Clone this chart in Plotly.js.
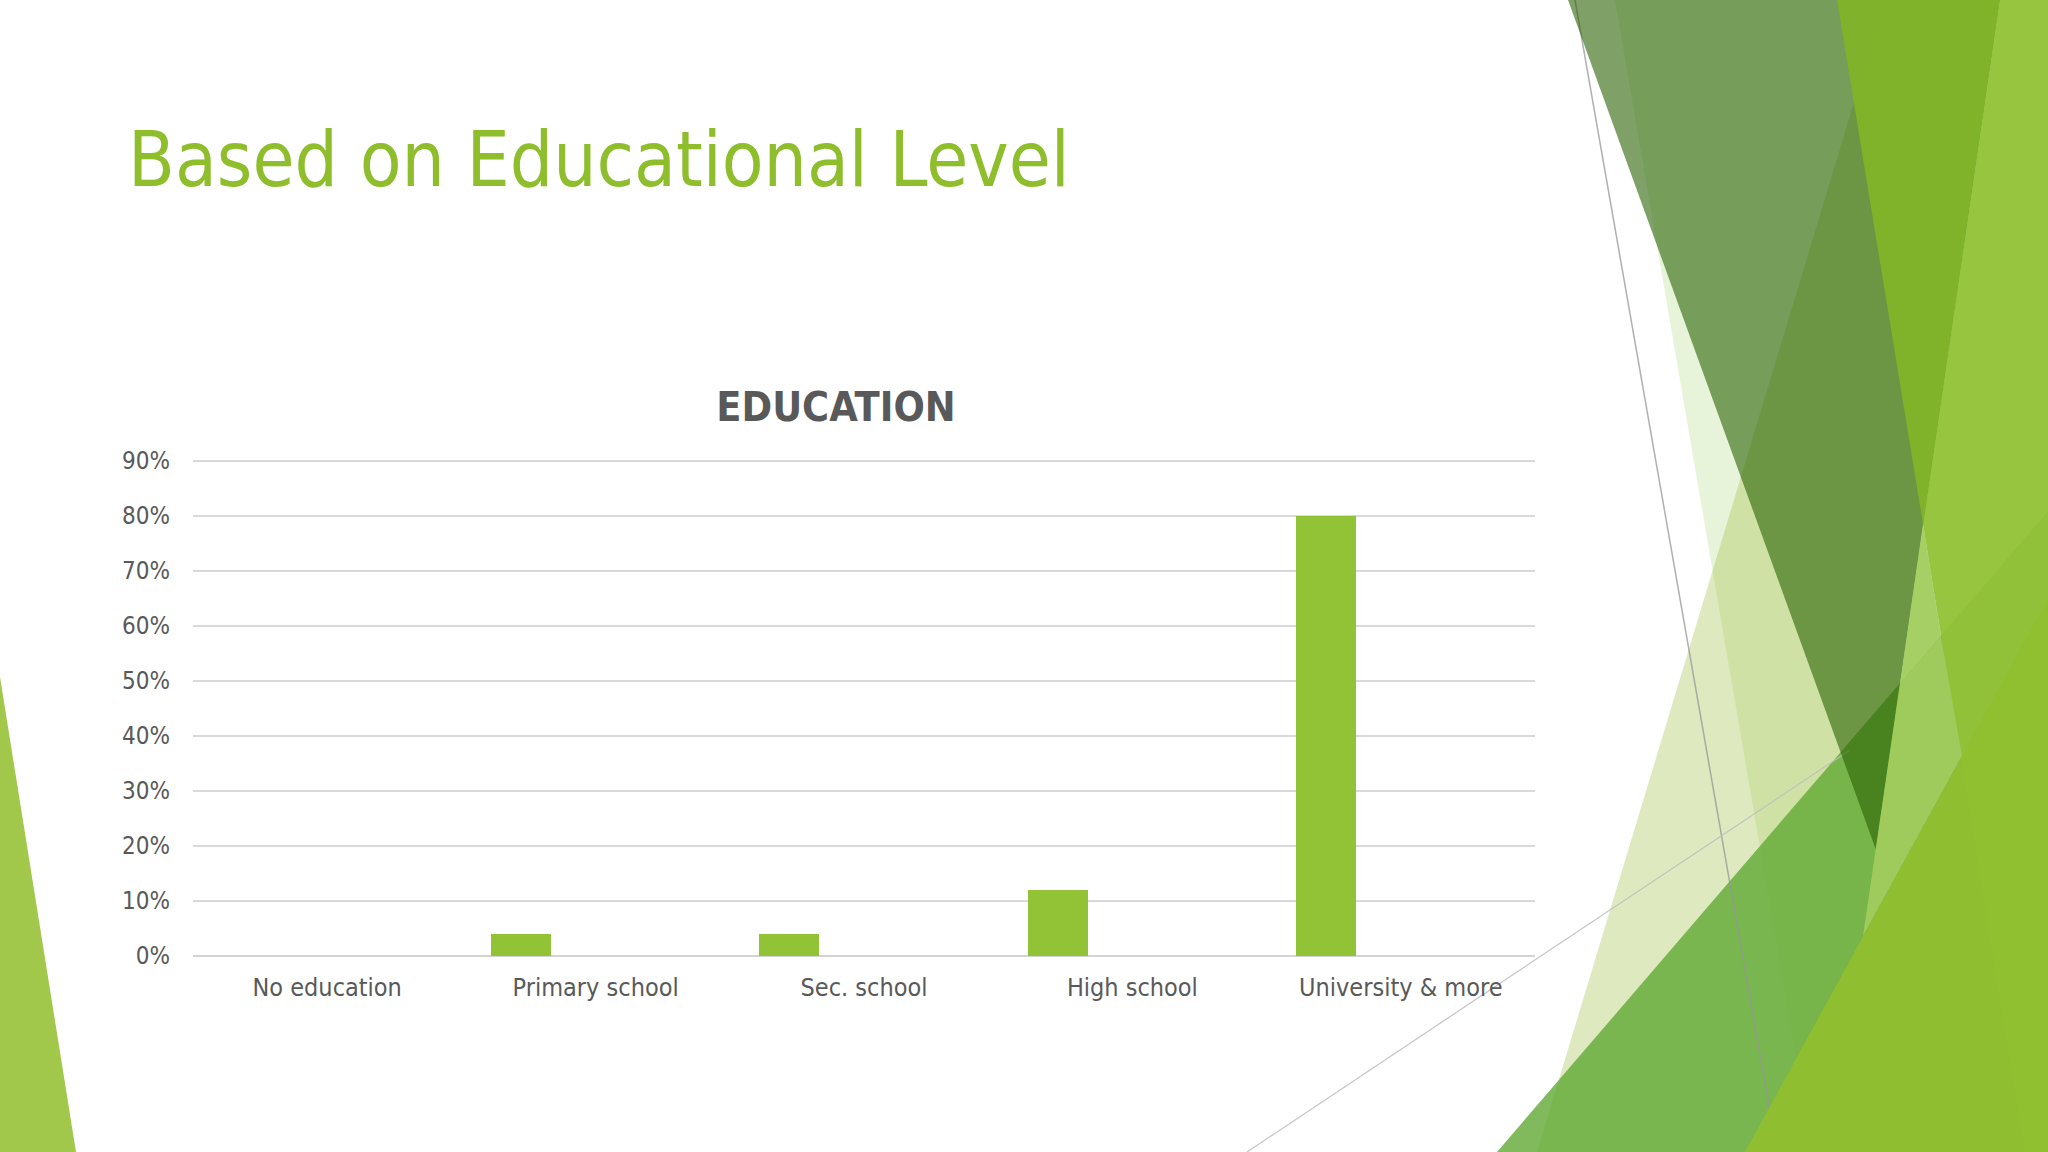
<!DOCTYPE html>
<html>
<head>
<meta charset="utf-8">
<script src="https://cdn.plot.ly/plotly-3.0.1.min.js"></script>
<style>
html,body{margin:0;padding:0;background:#ffffff;}
#chart{width:2048px;height:1152px;}
</style>
</head>
<body>
<div id="chart"></div>
<script>
// ---- data ----
const categories = ["No education", "Primary school", "Sec. school", "High school", "University & more"];
const shares = [0, 0.04, 0.04, 0.12, 0.80];
const yTickValues = [0, 0.1, 0.2, 0.3, 0.4, 0.5, 0.6, 0.7, 0.8, 0.9];
const yTickLabels = ["0%", "10%", "20%", "30%", "40%", "50%", "60%", "70%", "80%", "90%"];
const slideTitle = "Based on Educational Level";
const chartTitle = "EDUCATION";

// ---- page geometry (pixels of a 2048x1152 slide) ----
const W = 2048, H = 1152;
const px = x => x / W;
const py = y => 1 - y / H;
function path(pts) {
  return "M" + pts.map(p => px(p[0]).toFixed(5) + "," + py(p[1]).toFixed(5)).join(" L") + " Z";
}
function poly(pts, color) {
  return {type: "path", xref: "paper", yref: "paper", layer: "below",
          path: path(pts), fillcolor: color, line: {width: 0}};
}
function seg(a, b, color, w) {
  return {type: "line", xref: "paper", yref: "paper", layer: "below",
          x0: px(a[0]), y0: py(a[1]), x1: px(b[0]), y1: py(b[1]),
          line: {color: color, width: w}};
}

const shapes = [
  poly([[0,677],[76,1152],[0,1152]], "#a2c84b"),
  poly([[1615,0],[2048,0],[2048,1152],[1812,1152]], "rgba(141,198,63,0.2)"),
  poly([[1885,0],[2048,0],[2048,1152],[1537,1152]], "rgba(148,182,45,0.3)"),
  poly([[1497,1152],[2048,511],[2048,1152]], "rgba(96,169,51,0.8)"),
  seg([1575,0],[1777,1152], "rgba(150,150,150,0.75)", 1.5),
  seg([1247,1152],[1850,750], "rgba(190,190,190,0.85)", 1.3),
  poly([[1568,0],[2000,0],[1876,850]], "rgba(42,99,4,0.6)"),
  poly([[1837,0],[2000,0],[1923,524]], "rgba(130,180,40,0.92)"),
  poly([[2000,0],[2048,0],[2048,1152],[2025,1152],[1923,524]], "rgba(146,194,55,0.92)"),
  poly([[1923,524],[1941,636],[1900,683]], "#a6cf65"),
  poly([[1900,683],[1941,636],[1962,756],[1863,936]], "#9fca5c"),
  poly([[1745,1152],[2048,599],[2048,1152]], "rgba(144,192,48,0.96)")
];

const fontFam = "'Liberation Sans Narrow', 'DejaVu Sans Condensed', 'Open Sans', sans-serif";

const trace = {
  type: "bar",
  x: categories,
  y: shares,
  width: 0.224,
  offset: -0.39,
  marker: {color: "#92c236", line: {width: 0}},
  hoverinfo: "skip"
};

const layout = {
  width: W, height: H,
  margin: {l: 0, r: 0, t: 0, b: 0},
  paper_bgcolor: "#ffffff",
  plot_bgcolor: "rgba(0,0,0,0)",
  showlegend: false,
  bargap: 0,
  title: {
    text: "<b>" + chartTitle + "</b>",
    x: 836 / W, xanchor: "center",
    y: py(407), yanchor: "middle",
    font: {family: fontFam, size: 41, color: "#595959"}
  },
  xaxis: {
    domain: [px(193), px(1535)],
    type: "category",
    range: [-0.5, 4.5],
    showgrid: false, zeroline: false, showline: false,
    ticks: "", ticklabelstandoff: 14,
    tickfont: {family: fontFam, size: 25, color: "#595959"},
    fixedrange: true
  },
  yaxis: {
    domain: [py(956), py(455.5)],
    range: [0, 0.91],
    tickvals: yTickValues,
    ticktext: yTickLabels,
    showgrid: true, gridcolor: "#d9d9d9", gridwidth: 1.5,
    zeroline: true, zerolinecolor: "#d4d4d4", zerolinewidth: 2,
    showline: false, ticks: "", ticklabelstandoff: 22,
    tickfont: {family: fontFam, size: 24, color: "#595959"},
    fixedrange: true
  },
  shapes: shapes,
  annotations: [{
    text: slideTitle,
    xref: "paper", yref: "paper",
    x: px(126), xanchor: "left",
    y: py(160), yanchor: "middle",
    showarrow: false,
    font: {family: fontFam, size: 76, color: "#8fbe2c"}
  }]
};

Plotly.newPlot("chart", [trace], layout, {staticPlot: true, displayModeBar: false});
</script>
</body>
</html>
